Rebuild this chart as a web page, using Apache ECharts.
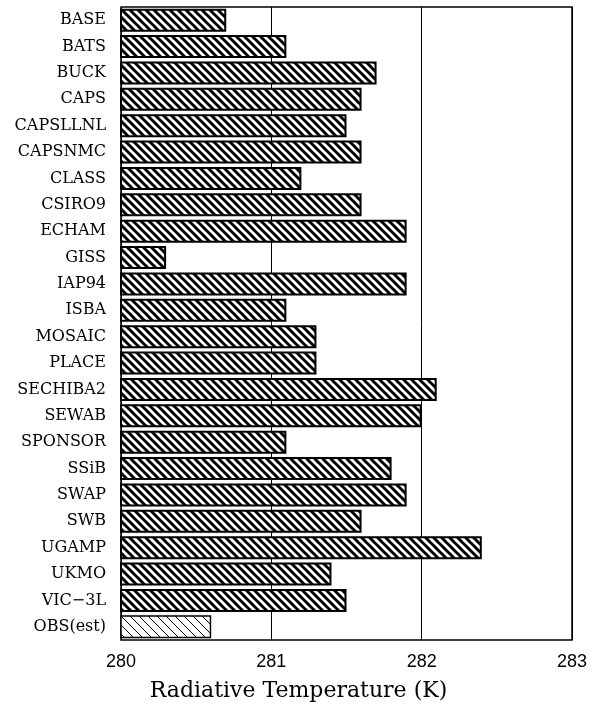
<!DOCTYPE html>
<html>
<head>
<meta charset="utf-8">
<script src="https://cdn.jsdelivr.net/npm/echarts@6/dist/echarts.min.js"></script>
<style>
html, body { margin: 0; padding: 0; background: #fff; }
#chart { width: 597px; height: 713px; }
</style>
</head>
<body>
<div id="chart"></div>
<script>
var models = ["BASE", "BATS", "BUCK", "CAPS", "CAPSLLNL", "CAPSNMC", "CLASS", "CSIRO9",
    "ECHAM", "GISS", "IAP94", "ISBA", "MOSAIC", "PLACE", "SECHIBA2", "SEWAB",
    "SPONSOR", "SSiB", "SWAP", "SWB", "UGAMP", "UKMO", "VIC\u22123L", "OBS(est)"];
var radTemp = [280.7, 281.1, 281.7, 281.6, 281.5, 281.6, 281.2, 281.6,
    281.9, 280.3, 281.9, 281.1, 281.3, 281.3, 282.1, 282.0,
    281.1, 281.8, 281.9, 281.6, 282.4, 281.4, 281.5, 280.6];
var xTicks = [280, 281, 282, 283];

// hatch fill: "\" stripes
function hatch(size, lw) {
    var c = document.createElement("canvas");
    c.width = size;
    c.height = size;
    var ctx = c.getContext("2d");
    ctx.fillStyle = "#fff";
    ctx.fillRect(0, 0, size, size);
    ctx.strokeStyle = "#000";
    ctx.lineWidth = lw;
    for (var k = -1; k <= 1; k++) {
        ctx.beginPath();
        ctx.moveTo(k * size - 1, -1);
        ctx.lineTo(k * size + size + 1, size + 1);
        ctx.stroke();
    }
    return c;
}
var thick = hatch(8, 3);
var thin = hatch(9, 1);

var data = radTemp.map(function(v, i) {
    var obs = models[i] === "OBS(est)";
    return {
        value: v,
        itemStyle: {
            color: { image: obs ? thin : thick, repeat: "repeat" },
            borderColor: "#000",
            borderWidth: obs ? 1.5 : 2
        }
    };
});

var chart = echarts.init(document.getElementById("chart"));
chart.setOption({
    animation: false,
    title: {
        text: "Radiative Temperature (K)",
        left: "center",
        top: 675,
        textStyle: { fontFamily: "DejaVu Serif", fontSize: 22, fontWeight: "normal", color: "#000" }
    },
    grid: {
        left: 121,
        right: 25,
        top: 7,
        bottom: 73,
        show: true,
        borderColor: "#000",
        borderWidth: 1.5
    },
    xAxis: {
        type: "value",
        min: xTicks[0],
        max: xTicks[xTicks.length - 1],
        interval: 1,
        axisLine: { show: false },
        axisTick: { show: false },
        axisLabel: { fontFamily: "Liberation Sans", fontSize: 18, color: "#000", margin: 13 },
        splitLine: { show: true, lineStyle: { color: "#000", width: 1 } }
    },
    yAxis: {
        type: "category",
        data: models,
        inverse: true,
        axisLine: { show: false },
        axisTick: { show: false },
        axisLabel: { fontFamily: "DejaVu Serif", fontSize: 16, color: "#000", margin: 15 }
    },
    series: [{
        type: "bar",
        data: data,
        barWidth: 23
    }]
});
</script>
</body>
</html>
